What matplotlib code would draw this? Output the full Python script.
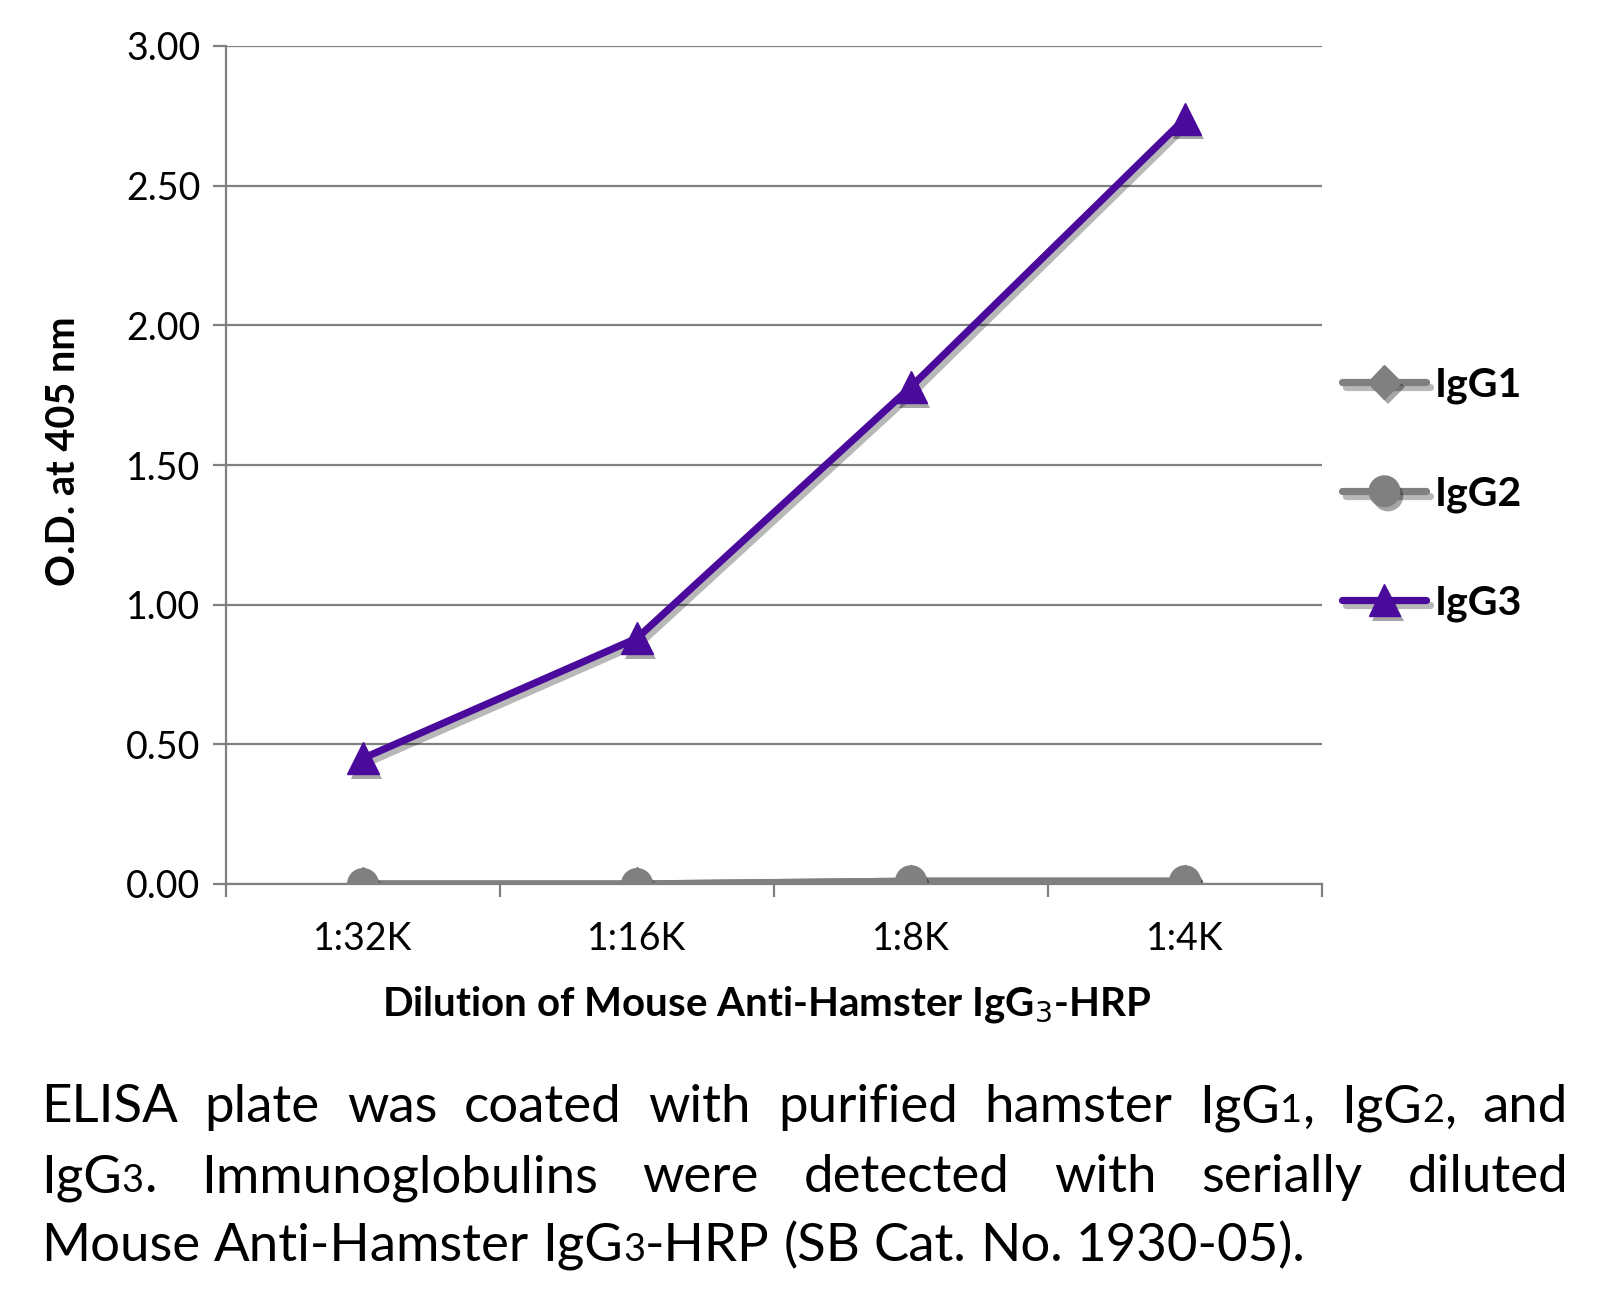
import re
import matplotlib
matplotlib.use("Agg")
import matplotlib.pyplot as plt
import matplotlib.patheffects as pe
from matplotlib.transforms import IdentityTransform

# values
dilutions = ["1:32K", "1:16K", "1:8K", "1:4K"]
igg1 = [0.00, 0.00, 0.01, 0.01]
igg2 = [0.00, 0.00, 0.01, 0.01]
igg3 = [0.45, 0.88, 1.78, 2.74]
yticks = [0.0, 0.5, 1.0, 1.5, 2.0, 2.5, 3.0]

# "_d" marks a small digit
caption = [
    "ELISA plate was coated with purified hamster IgG_1, IgG_2, and",
    "IgG_3.  Immunoglobulins were detected with serially diluted",
    "Mouse Anti-Hamster IgG_3-HRP (SB Cat. No. 1930-05).",
]

GRAY = "#808080"
PURPLE = "#4a0a9c"
W, H = 1607, 1306

plt.rcParams["font.family"] = ["Lato", "DejaVu Sans"]

fig = plt.figure(figsize=(W / 100, H / 100), dpi=100)
ax = fig.add_axes([226 / W, 1 - 884 / H, 1096 / W, 838 / H])

line_shadow = [pe.SimpleLineShadow(offset=(2.5, -3.5), shadow_color="black", alpha=0.28), pe.Normal()]
mark_shadow = [pe.SimplePatchShadow(offset=(2.5, -3.5), shadow_rgbFace="black", alpha=0.35), pe.Normal()]

x = range(len(dilutions))
series = [(igg1, GRAY, "D", 17, "IgG1"),
          (igg2, GRAY, "o", 22, "IgG2"),
          (igg3, PURPLE, "^", 23, "IgG3")]
handles, labels = [], []
for ys, col, mk, ms, lab in series:
    ln, = ax.plot(x, ys, color=col, lw=5.2, solid_capstyle="round", path_effects=line_shadow)
    mkr, = ax.plot(x, ys, color=col, ls="none", marker=mk, markersize=ms, path_effects=mark_shadow)
    handles.append((ln, mkr))
    labels.append(lab)

ax.set_xlim(-0.5, len(dilutions) - 0.5)
ax.set_ylim(0, 3)
ax.set_yticks(yticks)
ax.set_yticklabels([f"{v:.2f}" for v in yticks])
ax.set_xticks(list(x))
ax.set_xticklabels(dilutions)
ax.set_xticks([i - 0.5 for i in range(len(dilutions) + 1)], minor=True)
ax.grid(axis="y", color=GRAY, lw=1.6)
ax.set_axisbelow(True)
for s in ["top", "right"]:
    ax.spines[s].set_visible(False)
for s in ["left", "bottom"]:
    ax.spines[s].set_color(GRAY)
    ax.spines[s].set_linewidth(1.6)
ax.tick_params(axis="y", length=9.5, width=1.6, color=GRAY, labelsize=27, pad=9)
ax.tick_params(axis="x", which="major", length=0, labelsize=27, pad=27)
ax.tick_params(axis="x", which="minor", length=9.5, width=1.6, color=GRAY)

ax.set_xlabel("Dilution of Mouse Anti-Hamster IgG$_3$-HRP", fontsize=29, fontweight="bold", va="center")
ax.xaxis.set_label_coords(0.493, -0.144)
ax.set_ylabel("O.D. at 405 nm", fontsize=28.5, fontweight="bold", va="center")
ax.yaxis.set_label_coords(-0.148, 0.517)

ax.legend(handles, labels, loc="center left", bbox_to_anchor=(1.0, 0.465), frameon=False,
          prop={"size": 29.5, "weight": "bold"}, handlelength=2.05, handletextpad=0.2,
          labelspacing=1.75, borderaxespad=0.1)

# justified caption, drawn word by word
renderer = fig.canvas.get_renderer()
CAP = 38
left, right = 41, 1568
baselines = [H - 1122, H - 1192, H - 1261]


def make_word(word):
    parts = re.split(r"_(\d)", word)
    texts = []
    for i, p in enumerate(parts):
        if not p:
            continue
        fs = CAP if i % 2 == 0 else CAP * 0.72
        texts.append(fig.text(0, 0, p, fontsize=fs, transform=IdentityTransform(), va="baseline"))
    widths = [t.get_window_extent(renderer).width for t in texts]
    return texts, widths


t1 = fig.text(0, 0, "a a", fontsize=CAP)
t2 = fig.text(0, 0, "aa", fontsize=CAP)
space = t1.get_window_extent(renderer).width - t2.get_window_extent(renderer).width
t1.remove()
t2.remove()

for li, line in enumerate(caption):
    words = [make_word(w) for w in line.split()]
    total = sum(sum(w) for _, w in words)
    if li < len(caption) - 1:
        gap = (right - left - total) / (len(words) - 1)
    else:
        gap = space
    xpos = left
    for texts, widths in words:
        for t, w in zip(texts, widths):
            t.set_position((xpos, baselines[li]))
            xpos += w
        xpos += gap

fig.savefig("out.png", dpi=100)
